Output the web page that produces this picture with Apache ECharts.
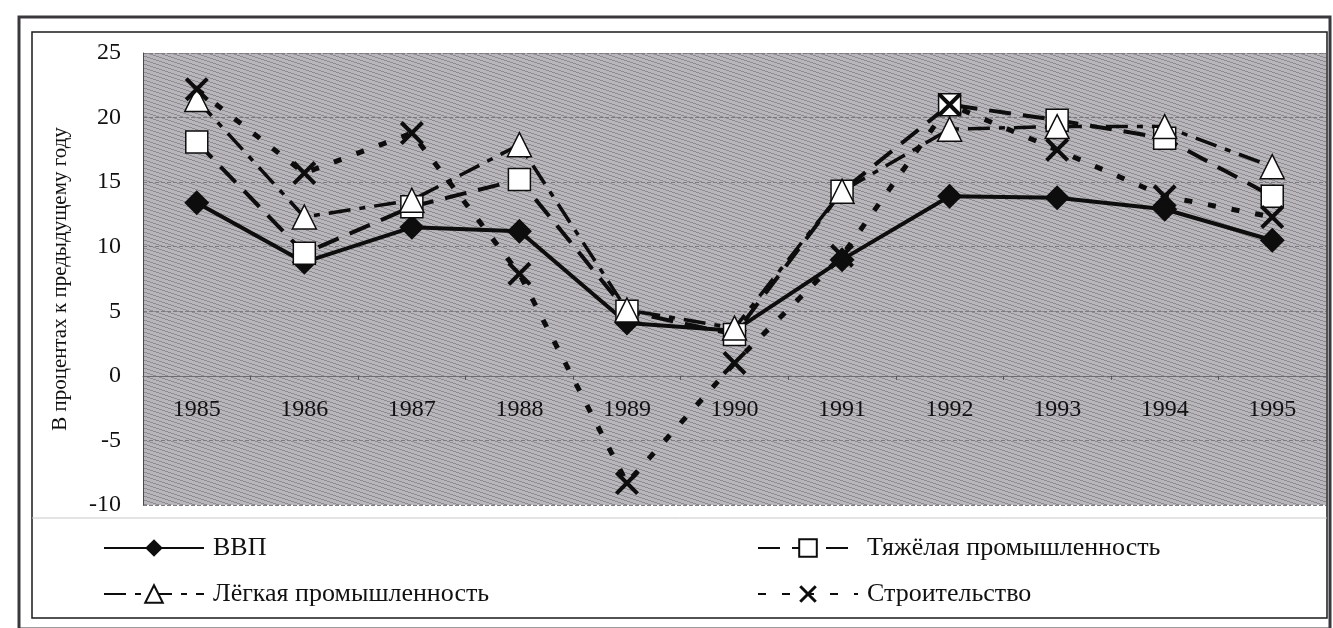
<!DOCTYPE html>
<html>
<head>
<meta charset="utf-8">
<script src="https://cdn.jsdelivr.net/npm/echarts@6/dist/echarts.min.js"></script>
<style>
  html, body { margin: 0; padding: 0; background: #fff; }
  #chart { width: 1333px; height: 628px; }
</style>
</head>
<body>
<div id="chart"></div>
<script>
  // годы
  var years = ["1985", "1986", "1987", "1988", "1989", "1990", "1991", "1992", "1993", "1994", "1995"];
  // ВВП
  var gdp = [13.4, 8.8, 11.5, 11.2, 4.1, 3.5, 9.0, 13.9, 13.8, 12.9, 10.5];
  // Тяжёлая промышленность
  var heavy = [18.1, 9.5, 13.1, 15.2, 5.0, 3.2, 14.3, 21.0, 19.8, 18.4, 13.9];
  // Лёгкая промышленность
  var light = [21.4, 12.3, 13.6, 17.9, 5.1, 3.7, 14.3, 19.1, 19.3, 19.3, 16.2];
  // Строительство
  var build = [22.2, 15.7, 18.8, 7.9, -8.3, 1.0, 9.3, 21.0, 17.5, 13.9, 12.3];
  var yTicks = [25, 20, 15, 10, 5, 0, -5, -10];

  var serif = "Liberation Serif";
  var xSymbol = "path://M0,1.2L1.2,0L10,8.8L8.8,10ZM8.8,0L10,1.2L1.2,10L0,8.8Z";

  // штриховка фона
  var pat = document.createElement("canvas");
  pat.width = 12;
  pat.height = 4;
  var pc = pat.getContext("2d");
  pc.fillStyle = "#b8b6ba";
  pc.fillRect(0, 0, 12, 4);
  pc.fillStyle = "#8d8b90";
  for (var i = 0; i < 12; i++) {
    pc.fillRect(i, (Math.floor(i / 3)) % 4, 1, 1);
  }

  // высота сетки, чтобы подписи лет стояли у нуля
  var gridTop = 53, gridBottom = 123;
  var plotH = 628 - gridTop - gridBottom;
  var zeroOffset = -plotH * (0 - yTicks[yTicks.length - 1]) / (yTicks[0] - yTicks[yTicks.length - 1]);

  var myChart = echarts.init(document.getElementById("chart"));
  var option = {
    animation: false,
    backgroundColor: "#fff",
    textStyle: { fontFamily: serif, color: "#1a1a1a" },
    grid: {
      left: 143,
      right: 7,
      top: gridTop,
      bottom: gridBottom,
      show: true,
      borderWidth: 0,
      backgroundColor: { image: pat, repeat: "repeat" }
    },
    legend: [
      {
        left: 98,
        top: 530,
        orient: "vertical",
        itemGap: 20,
        itemWidth: 100,
        itemHeight: 22,
        textStyle: { fontFamily: serif, fontSize: 26, color: "#111", padding: [0, 0, 0, 4] },
        data: ["ВВП", "Лёгкая промышленность"]
      },
      {
        left: 752,
        top: 530,
        orient: "vertical",
        itemGap: 20,
        itemWidth: 100,
        itemHeight: 22,
        textStyle: { fontFamily: serif, fontSize: 26, color: "#111", padding: [0, 0, 0, 4] },
        data: ["Тяжёлая промышленность", "Строительство"]
      }
    ],
    xAxis: {
      type: "category",
      data: years,
      boundaryGap: true,
      position: "bottom",
      offset: zeroOffset,
      axisLine: { onZero: false, lineStyle: { color: "#6f6d72", width: 1 } },
      axisTick: { show: true, length: 4, lineStyle: { color: "#55535a" } },
      axisLabel: { fontFamily: serif, fontSize: 24, color: "#111", margin: 22 }
    },
    yAxis: {
      type: "value",
      min: -10,
      max: 25,
      interval: 5,
      name: "В процентах к предыдущему году",
      nameLocation: "middle",
      nameGap: 72,
      nameRotate: 90,
      nameTextStyle: { fontFamily: serif, fontSize: 21, color: "#111" },
      axisLine: { show: true, lineStyle: { color: "#4a484d", width: 1 } },
      axisTick: { show: false },
      axisLabel: { fontFamily: serif, fontSize: 24, color: "#111", margin: 22 },
      splitLine: { lineStyle: { color: "#7e7c81", type: "dashed", width: 1 } }
    },
    series: [
      {
        name: "ВВП",
        type: "line",
        data: gdp,
        symbol: "diamond",
        symbolSize: 25,
        itemStyle: { color: "#0d0d0d" },
        lineStyle: { color: "#0d0d0d", width: 4 }
      },
      {
        name: "Тяжёлая промышленность",
        type: "line",
        data: heavy,
        symbol: "rect",
        symbolSize: 22,
        itemStyle: { color: "#fff", borderColor: "#0d0d0d", borderWidth: 1.5 },
        lineStyle: { color: "#0d0d0d", width: 4, type: [22, 12] }
      },
      {
        name: "Лёгкая промышленность",
        type: "line",
        data: light,
        symbol: "triangle",
        symbolSize: 24,
        itemStyle: { color: "#fff", borderColor: "#0d0d0d", borderWidth: 1.5 },
        lineStyle: { color: "#0d0d0d", width: 3.5, type: [22, 9, 6, 9] }
      },
      {
        name: "Строительство",
        type: "line",
        data: build,
        symbol: xSymbol,
        symbolSize: 24,
        itemStyle: { color: "#0d0d0d" },
        lineStyle: { color: "#0d0d0d", width: 5, type: [8, 16] }
      }
    ],
    graphic: [
      {
        type: "rect",
        shape: { x: 19, y: 17, width: 1311, height: 612 },
        style: { fill: "none", stroke: "#3a383c", lineWidth: 3 }
      },
      {
        type: "rect",
        shape: { x: 32, y: 32, width: 1295, height: 586 },
        style: { fill: "none", stroke: "#1a1a1a", lineWidth: 1.5 }
      },
      {
        type: "line",
        shape: { x1: 32, y1: 518, x2: 1327, y2: 518 },
        style: { stroke: "#c8c8c8", lineWidth: 1 }
      }
    ]
  };

  myChart.setOption(option);
  window.addEventListener("resize", function() {
    myChart.resize();
  });
</script>
</body>
</html>
